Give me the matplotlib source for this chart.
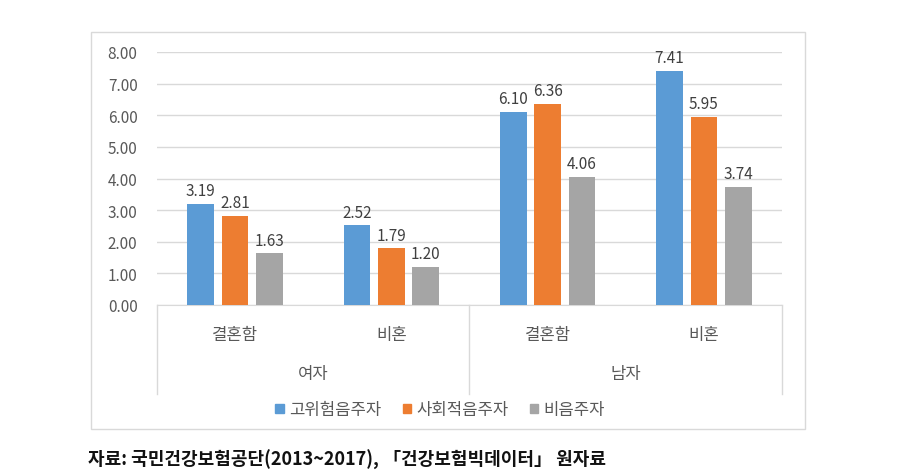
import matplotlib
matplotlib.use("Agg")
import matplotlib.pyplot as plt
from matplotlib.patches import Rectangle
import numpy as np

plt.rcParams['font.family'] = ['Noto Sans CJK KR', 'DejaVu Sans']

# data
groups = ['여자', '남자']
subcats = ['결혼함', '비혼', '결혼함', '비혼']
series = ['고위험음주자', '사회적음주자', '비음주자']
high_risk = [3.19, 2.52, 6.10, 7.41]
social = [2.81, 1.79, 6.36, 5.95]
non_drink = [1.63, 1.20, 4.06, 3.74]
colors = ['#5B9BD5', '#ED7D31', '#A5A5A5']
source = '자료: 국민건강보험공단(2013~2017), 「건강보험빅데이터」 원자료'

W, H = 908, 477
fig = plt.figure(figsize=(W / 100, H / 100), dpi=100)

# outer chart border
fig.patches.append(Rectangle((91 / W, 1 - 430 / H), (805 - 91) / W, (430 - 33) / H,
                             transform=fig.transFigure, fill=False,
                             edgecolor='#D9D9D9', linewidth=1))

ax = fig.add_axes([157 / W, 1 - 306 / H, (782 - 157) / W, (306 - 53) / H])

x = np.arange(len(subcats))
bw = 0.17
gap = 0.05
for i, (vals, c) in enumerate(zip([high_risk, social, non_drink], colors)):
    pos = x + (i - 1) * (bw + gap)
    ax.bar(pos, vals, width=bw, color=c, label=series[i], zorder=3)
    for p, v in zip(pos, vals):
        ax.text(p, v + 0.15, f'{v:.2f}', ha='center', va='bottom',
                fontsize=11, color='#404040')

ax.set_xlim(-0.5, len(subcats) - 0.5)
ax.set_ylim(0, 8)
ax.set_yticks(np.arange(0, 9, 1))
ax.set_yticklabels([f'{v:.2f}' for v in np.arange(0, 9, 1)], fontsize=11, color='#595959')
ax.tick_params(axis='y', length=0, pad=14)
ax.set_xticks([])
ax.grid(axis='y', color='#D9D9D9', linewidth=1, zorder=0)
for s in ['top', 'right', 'left']:
    ax.spines[s].set_visible(False)
ax.spines['bottom'].set_color('#D9D9D9')

# category axis: sub labels, group labels, separators
trans = ax.get_xaxis_transform()
for xi, lab in zip(x, subcats):
    ax.text(xi, -0.115, lab, transform=trans, ha='center', va='center',
            fontsize=12, color='#595959')
for gi, g in enumerate(groups):
    ax.text(gi * 2 + 0.5, -0.27, g, transform=trans, ha='center', va='center',
            fontsize=12, color='#595959')
for xs in [-0.5, 1.5, 3.5]:
    ax.plot([xs, xs], [0, -0.35], transform=trans, color='#D9D9D9',
            linewidth=1, clip_on=False)

handles = [Rectangle((0, 0), 1, 1, color=c) for c in colors]
fig.legend(handles, series, loc='center', bbox_to_anchor=(440 / W, 1 - 411 / H),
           ncol=3, frameon=False, fontsize=12, handlelength=0.5, handleheight=0.5,
           handletextpad=0.3, columnspacing=1.3, labelcolor='#595959')

fig.text(88 / W, 1 - 460 / H, source, ha='left', va='center', fontsize=13,
         fontweight='bold', color='#111111')

fig.savefig('out.png', dpi=100)
